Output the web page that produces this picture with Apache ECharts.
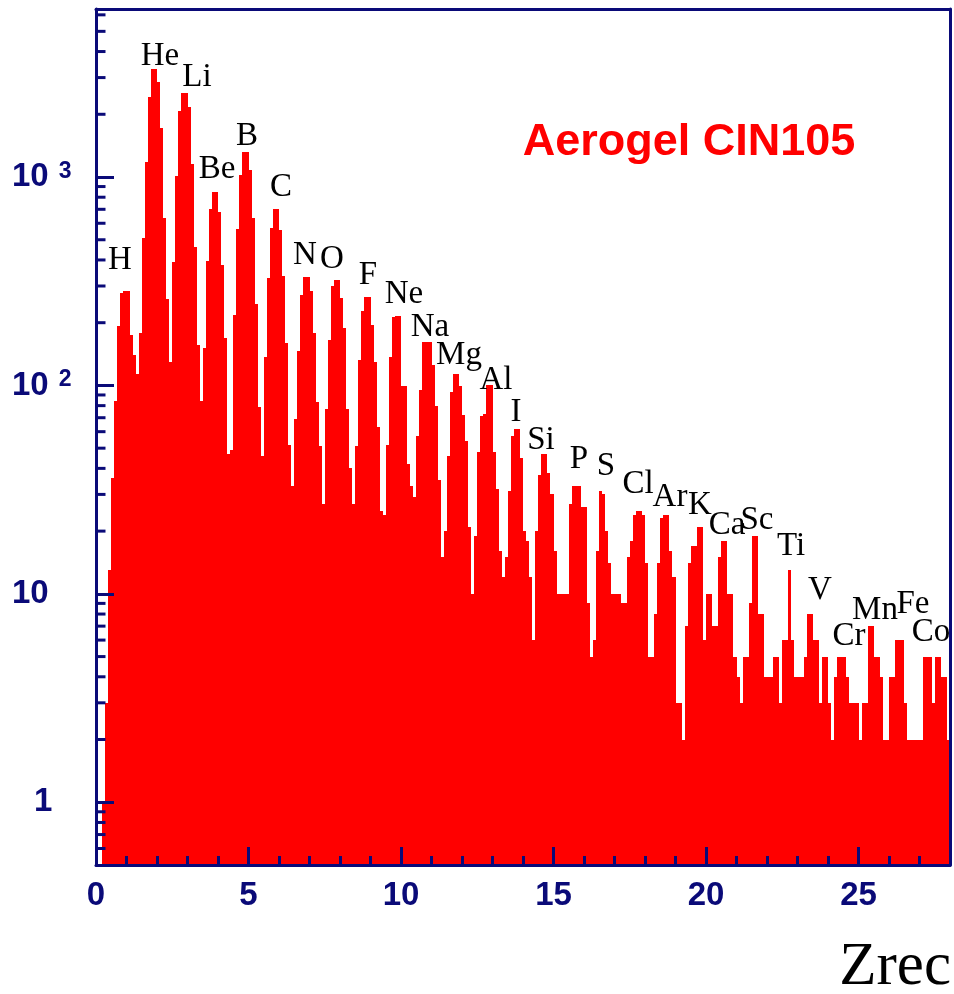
<!DOCTYPE html>
<html>
<head>
<meta charset="utf-8">
<script src="https://cdn.jsdelivr.net/npm/echarts@6/dist/echarts.min.js"></script>
<style>
html,body{margin:0;padding:0;background:#ffffff;}
#chart{width:954px;height:994px;}
</style>
</head>
<body>
<div id="chart"></div>
<script>
// ---------------- DATA ----------------
const binWidth = 0.1;            // Zrec bin width
const xRange = [0, 28];
const yRange = [0.5, 6400];
// counts per bin, bin i covers [i*0.1, (i+1)*0.1); 0 = empty
const counts = [
  0, 0, 1, 3, 13, 36, 84, 193, 277, 283,
  283, 174, 140, 114, 178, 512, 1187, 2434, 3289, 3289,
  2843, 1714, 634, 261, 129, 389, 1012, 2063, 2525, 2525,
  2160, 1151, 462, 156, 84, 152, 396, 706, 843, 843,
  680, 377, 168, 47, 49, 217, 561, 1028, 1320, 1320,
  1082, 634, 247, 79, 46, 137, 328, 568, 706, 706,
  557, 335, 160, 52, 33, 69, 146, 273, 330, 330,
  283, 179, 83, 51, 27, 77, 165, 300, 320, 320,
  263, 188, 77, 40, 27, 51, 132, 227, 265, 265,
  194, 130, 63, 25, 24, 52, 137, 212, 215, 215,
  99, 99, 42, 33, 29, 57, 95, 162, 162, 162,
  126, 80, 35, 15, 20, 46, 93, 114, 114, 99,
  72, 54, 21, 10, 19, 48, 71, 73, 101, 101,
  48, 32, 16, 12, 15, 31, 57, 62, 62, 45,
  20, 18, 12, 6, 20, 37, 47, 47, 38, 30,
  16, 10, 10, 10, 10, 27, 33, 33, 33, 26,
  26, 9, 5, 6, 16, 31, 30, 20, 14, 10,
  10, 10, 9, 9, 15, 18, 24, 25, 25, 24,
  14, 5, 5, 8, 14, 23, 24, 24, 16, 12,
  3, 3, 2, 7, 14, 17, 17, 21, 21, 6,
  10, 10, 7, 7, 15, 18, 18, 10, 10, 5,
  4, 3, 5, 5, 9, 19, 19, 8, 8, 4,
  4, 4, 5, 5, 3, 6, 6, 13, 6, 4,
  4, 4, 5, 8, 8, 6, 6, 3, 5, 5,
  3, 2, 4, 5, 5, 5, 4, 3, 3, 3,
  2, 3, 3, 7, 7, 5, 5, 4, 2, 2,
  4, 4, 6, 6, 6, 3, 2, 2, 2, 2,
  2, 5, 5, 5, 3, 5, 5, 4, 4, 2
];
const elements = ['H','He','Li','Be','B','C','N','O','F','Ne','Na','Mg','Al','I','Si',
                  'P','S','Cl','Ar','K','Ca','Sc','Ti','V','Cr','Mn','Fe','Co'];
const xTickInterval = 5;
const yMajorTicks = [1, 10, 100, 1000];
const yMinorTicks = [0.6, 0.7, 0.8, 0.9,
  2, 3, 4, 5, 6, 7, 8, 9,
  20, 30, 40, 50, 60, 70, 80, 90,
  200, 300, 400, 500, 600, 700, 800, 900,
  2000, 3000, 4000, 5000, 6000];
const titleText = 'Aerogel CIN105';
const xAxisTitle = 'Zrec';

// ---------------- LAYOUT / STYLE ----------------
const NAVY = '#0a0a78';
const RED = '#ff0000';
const labelPos = [
  [120,260],[160,56],[197,77],[217,169],[247,136],[281,187],[305,255],[332,259],
  [368,275],[404,294],[430,327],[459,355],[496,380],[516,412],[541,440],[579,459],
  [606,466],[638,484],[670,497],[700,505],[727,525],[757,520],[791,546],[820,590],
  [849,636],[875,610],[913,604],[931,632]
];

const histData = [];
counts.forEach((c, i) => {
  if (c > 0) histData.push([+(i*binWidth).toFixed(1), +((i+1)*binWidth).toFixed(1), c]);
});

const chart = echarts.init(document.getElementById('chart'), null, {renderer:'canvas'});

const graphics = elements.map((el, i) => ({
  type: 'text', x: labelPos[i][0], y: labelPos[i][1], z: 20,
  style: {text: el, fontFamily: 'Liberation Serif, serif', fontSize: 33, fill: '#000',
          align: 'center', verticalAlign: 'middle'}
}));
graphics.push({
  type: 'text', x: 689, y: 143, z: 20,
  style: {text: titleText, fontFamily: 'Liberation Sans, Arial, sans-serif', fontWeight: 'bold',
          fontSize: 45, fill: RED, align: 'center', verticalAlign: 'middle'}
});
graphics.push({
  type: 'text', x: 951, y: 968, z: 20,
  style: {text: xAxisTitle, fontFamily: 'Liberation Serif, serif', fontSize: 61, fill: '#000',
          align: 'right', verticalAlign: 'middle'}
});

function yLabel(v) {
  const l = Math.log10(v);
  const e = Math.round(l);
  if (Math.abs(l - e) > 0.01 || e < 0 || e > 3) return '';
  if (e === 0) return '{one|1}';
  if (e === 1) return '{n|10}';
  return '{n|10}{s|' + e + '}';
}

const option = {
  animation: false,
  backgroundColor: '#ffffff',
  grid: {left: 96, right: 4, top: 9, bottom: 129, containLabel: false},
  xAxis: [{
    type: 'value', min: xRange[0], max: xRange[1], interval: xTickInterval, z: 10,
    axisLine: {show: true, onZero: false, lineStyle: {color: NAVY, width: 3}},
    axisTick: {show: true, inside: true, length: 18, lineStyle: {color: NAVY, width: 3}},
    minorTick: {show: true, splitNumber: 5, length: 9, lineStyle: {color: NAVY, width: 3}},
    axisLabel: {show: true, margin: 14, color: NAVY, fontFamily: 'Liberation Sans, Arial, sans-serif',
                fontWeight: 'bold', fontSize: 33, showMaxLabel: false},
    splitLine: {show: false}
  }, {
    type: 'value', position: 'top', min: xRange[0], max: xRange[1], z: 10,
    axisLine: {show: true, onZero: false, lineStyle: {color: NAVY, width: 3}},
    axisTick: {show: false}, axisLabel: {show: false}, splitLine: {show: false}
  }],
  yAxis: [{
    type: 'log', logBase: 10, min: yRange[0], max: yRange[1], z: 10,
    axisLine: {show: true, onZero: false, lineStyle: {color: NAVY, width: 3}},
    axisTick: {show: true, inside: true, length: 18, lineStyle: {color: NAVY, width: 3}},
    axisLabel: {
      show: true, align: 'left', margin: 84, showMinLabel: false, showMaxLabel: false,
      formatter: yLabel,
      rich: {
        n: {color: NAVY, fontFamily: 'Liberation Sans, Arial, sans-serif', fontWeight: 'bold', fontSize: 33, lineHeight: 34},
        one: {color: NAVY, fontFamily: 'Liberation Sans, Arial, sans-serif', fontWeight: 'bold', fontSize: 33, lineHeight: 34, padding: [0,0,0,22]},
        s: {color: NAVY, fontFamily: 'Liberation Sans, Arial, sans-serif', fontWeight: 'bold', fontSize: 23, lineHeight: 19,
            verticalAlign: 'top', padding: [0,0,0,10]}
      }
    },
    splitLine: {show: false}
  }, {
    type: 'value', position: 'right', min: 0, max: 1, z: 10,
    axisLine: {show: true, onZero: false, lineStyle: {color: NAVY, width: 3}},
    axisTick: {show: false}, axisLabel: {show: false}, splitLine: {show: false}
  }],
  series: [{
    type: 'custom', name: 'Zrec', xAxisIndex: 0, yAxisIndex: 0, z: 2, clip: true,
    encode: {x: [0, 1], y: 2},
    data: histData,
    renderItem: function (params, api) {
      const x0 = api.value(0), x1 = api.value(1), v = api.value(2);
      const top = api.coord([x0, v]);
      const bot = api.coord([x1, yRange[0]]);
      const xl = Math.round(top[0]), xr = Math.round(bot[0]);
      const yt = Math.round(top[1]), yb = Math.round(bot[1]);
      return {
        type: 'rect',
        shape: {x: xl, y: yt, width: xr - xl, height: yb - yt},
        style: {fill: RED, stroke: null, lineWidth: 0}
      };
    }
  }, {
    type: 'custom', name: 'minorTicks', xAxisIndex: 0, yAxisIndex: 0, z: 12, silent: true,
    encode: {x: 0, y: 1},
    data: yMinorTicks.map(v => [xRange[0], v]),
    renderItem: function (params, api) {
      const p = api.coord([api.value(0), api.value(1)]);
      return {
        type: 'line',
        shape: {x1: p[0], y1: p[1], x2: p[0] + 9.5, y2: p[1]},
        style: {stroke: NAVY, lineWidth: 3}
      };
    }
  }],
  graphic: graphics
};
chart.setOption(option);
</script>
</body>
</html>
